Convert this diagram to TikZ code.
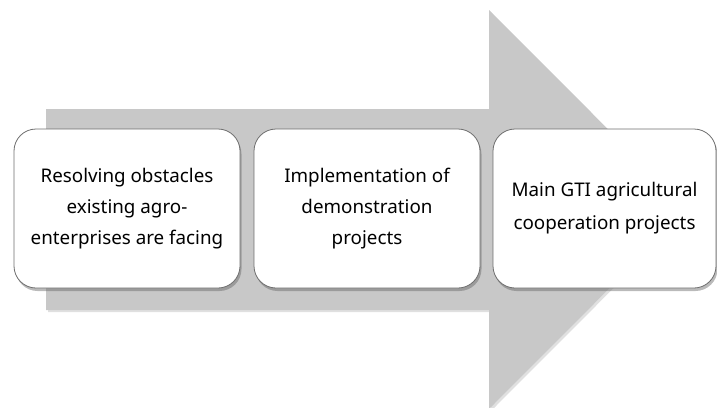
\documentclass[tikz,border=0pt]{standalone}
\usepackage{fontspec}
\setmainfont{Noto Sans}
\usetikzlibrary{shadows}
\definecolor{arrowgray}{RGB}{200,200,200}
\definecolor{boxline}{RGB}{110,110,110}
\tikzset{
  stagebox/.style={draw=boxline, line width=0.8pt, fill=white, rounded corners=22pt,
    minimum height=159pt, inner sep=0pt, align=center, font=\fontsize{18.8}{31}\selectfont,
    drop shadow={shadow xshift=1.5pt, shadow yshift=-3pt, opacity=0.45, fill=black!60}},
  bigarrow/.style={fill=arrowgray, draw=none,
    drop shadow={shadow xshift=2pt, shadow yshift=-2pt, opacity=0.12, fill=black}}
}
\begin{document}
\begin{tikzpicture}[x=1pt,y=-1pt]
\useasboundingbox (0,0) rectangle (717,407);
\path[bigarrow] (46,109) -- (489,109) -- (489,10) -- (688,209.5) -- (489,409) -- (489,310) -- (46,310) -- cycle;
\node[stagebox, minimum width=226pt] (b1) at (127,208.5) {Resolving obstacles\\existing agro-\\enterprises are facing};
\node[stagebox, minimum width=226pt] (b2) at (367,208.5) {Implementation of\\demonstration\\projects};
\node[stagebox, minimum width=223pt, font=\fontsize{18.8}{33}\selectfont] (b3) at (604.5,208.5) {Main GTI agricultural\\cooperation projects};
\end{tikzpicture}
\end{document}
